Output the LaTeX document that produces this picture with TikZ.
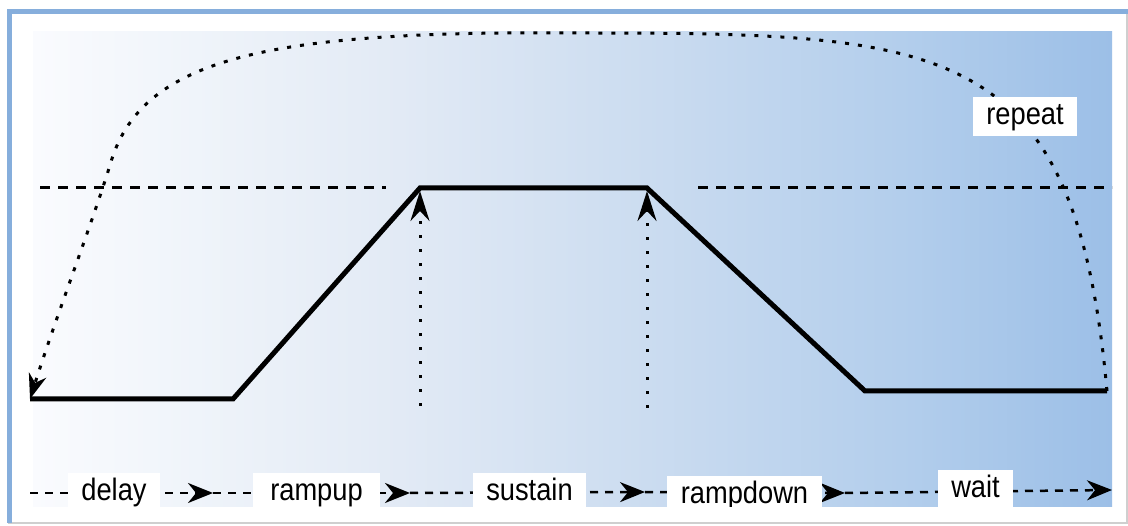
\documentclass[tikz,border=0pt]{standalone}
\usepackage{fontspec}
\setmainfont{Liberation Sans}[FakeStretch=0.88]
\usetikzlibrary{arrows.meta}
\definecolor{frameblue}{HTML}{86AEDC}
\definecolor{framegray}{HTML}{CFCFCF}
\definecolor{ga}{HTML}{FAFBFE}
\definecolor{gb}{HTML}{F2F6FB}
\definecolor{gc}{HTML}{E2EAF5}
\definecolor{gd}{HTML}{C6D9EF}
\definecolor{ge}{HTML}{B3CEEC}
\definecolor{gf}{HTML}{9CBFE7}
\pgfdeclarehorizontalshading{bgshade}{100bp}{color(0bp)=(ga); color(25bp)=(ga); color(30.4bp)=(gb); color(42bp)=(gc); color(55.9bp)=(gd); color(65.2bp)=(ge); color(75bp)=(gf); color(100bp)=(gf)}
\begin{document}
\begin{tikzpicture}[x=1pt,y=-1pt,
  profile/.style={line width=5pt, line join=miter},
  hdash/.style={line width=3pt, dash pattern=on 10pt off 8pt},
  flowdash/.style={line width=2.5pt, dash pattern=on 8pt off 7pt, -{Stealth[length=25pt,width=20pt,inset=8pt]}},
  dots/.style={line width=3pt, dash pattern=on 4pt off 9pt},
  vdots/.style={line width=3pt, dash pattern=on 3pt off 11pt},
  lbl/.style={fill=white, inner xsep=13pt, inner ysep=5pt, text height=22pt, text depth=7pt, font=\fontsize{31}{36}\selectfont, anchor=north},
]
\useasboundingbox (0,0) rectangle (1128,526);
\fill[white] (0,0) rectangle (1128,526);
% frame
\draw[framegray, line width=1.2pt] (8,523) -- (1127,523) -- (1127,11);
\draw[frameblue, line width=5pt] (9,523) -- (9,11.5) -- (1128,11.5);
% background gradient
\shade[shading=bgshade] (33,32) rectangle (1112,507);
\begin{scope}
\clip (0,0) rectangle (1128,507);
% key points of the profile
\coordinate (p0) at (30,399);
\coordinate (p1) at (233,399);
\coordinate (p2) at (420,188);
\coordinate (p3) at (647,188);
\coordinate (p4) at (865,391);
\coordinate (p5) at (1107,391);
% dashed level lines
\coordinate (hl0) at (40,188);
\coordinate (hl1) at (386,188);
\coordinate (hr0) at (698,188);
\coordinate (hr1) at (1112,188);
\draw[hdash] (hl0) -- (hl1);
\draw[hdash] (hr0) -- (hr1);
% profile
\draw[profile] (p0) -- (p1) -- (p2) -- (p3) -- (p4) -- (p5);
% vertical dotted arrows
\coordinate (v1) at (420,406);
\coordinate (v1t) at (420,191);
\coordinate (v2) at (647,408);
\coordinate (v2t) at (647,191);
\draw[vdots, -{Stealth[length=30pt,width=19pt,inset=10pt]}] (v1) -- (v1t);
\draw[vdots, -{Stealth[length=30pt,width=19pt,inset=10pt]}] (v2) -- (v2t);
% repeat curve
\coordinate (top) at (580,33);
\coordinate (bend) at (110,165);
\draw[dots, -{Stealth[length=25pt,width=18pt,inset=8pt]}] (p5) .. controls (1075,40) and (950,33) .. (top) .. controls (260,30) and (140,60) .. (bend) .. controls (95,215) and (55,320) .. (p0);
\node[lbl, minimum width=104pt] (repeat) at (1025,97) {repeat};
% bottom sequence
\coordinate (s0) at (30,493);
\coordinate (s1) at (213,493);
\coordinate (s2) at (410,493);
\coordinate (s3) at (645,492);
\coordinate (s4) at (845,493);
\coordinate (s5) at (1112,490);
\draw[flowdash] (s0) -- (s1);
\draw[flowdash] (s1) -- (s2);
\draw[flowdash] (s2) -- (s3);
\draw[flowdash] (s3) -- (s4);
\draw[flowdash] (s4) -- (s5);
\node[lbl, minimum width=88pt] (delay) at (114,473) {delay};
\node[lbl, minimum width=127pt] (rampup) at (316.5,473) {rampup};
\node[lbl, minimum width=113pt] (sustain) at (529.5,473) {sustain};
\node[lbl, minimum width=155pt] (rampdown) at (744.5,476) {rampdown};
\node[lbl, minimum width=75pt] (wait) at (975.5,470) {wait};
\end{scope}
\end{tikzpicture}
\end{document}
